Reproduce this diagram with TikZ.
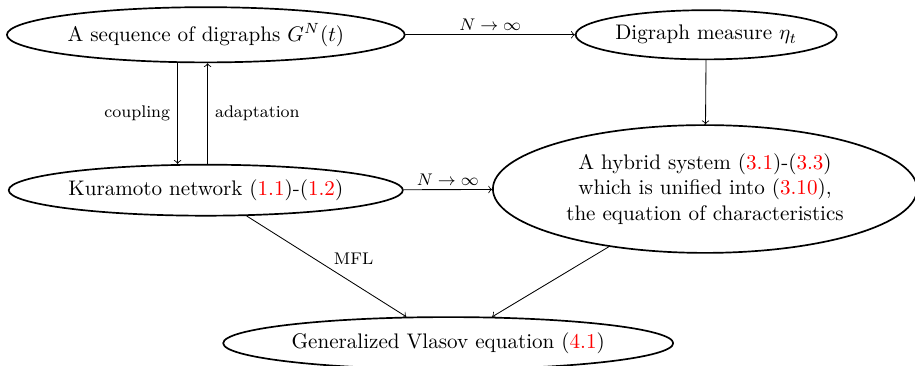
\documentclass[tikz,border=0pt]{standalone}
\usetikzlibrary{shapes.geometric}
\newcommand{\eqref}[1]{\textcolor{red}{#1}}
\begin{document}
\begin{tikzpicture}[line cap=round,line join=round,
  eqnode/.style={ellipse,draw,thick,inner sep=0pt,align=center},
  lab/.style={font=\footnotesize}]
  \useasboundingbox (0,0) rectangle (15.25,6.1);
  \node[eqnode,minimum width=6.63cm,minimum height=0.92cm] (G) at (3.43,5.52) {A sequence of digraphs $G^N(t)$};
  \node[eqnode,minimum width=4.35cm,minimum height=0.82cm] (M) at (11.77,5.52) {Digraph measure $\eta_t$};
  \node[eqnode,minimum width=6.57cm,minimum height=0.85cm] (K) at (3.43,2.93) {Kuramoto network (\eqref{1.1})-(\eqref{1.2})};
  \node[eqnode,minimum width=7.07cm,minimum height=2.13cm] (H) at (11.75,2.95) {A hybrid system (\eqref{3.1})-(\eqref{3.3})\\ which is unified into (\eqref{3.10}),\\ the equation of characteristics};
  \node[eqnode,minimum width=7.5cm,minimum height=0.87cm] (V) at (7.47,0.38) {Generalized Vlasov equation (\eqref{4.1})};
  \draw[->] (G) -- (M) node[midway,above=-1.5pt,lab] {$N\to\infty$};
  \draw[->] (M) -- (H);
  \draw[->] ([xshift=-0.47cm]G.south) -- ([xshift=-0.47cm]K.north) node[midway,left,lab] {coupling};
  \draw[->] ([xshift=0.03cm]K.north) -- ([xshift=0.03cm]G.south) node[midway,right,lab] {adaptation};
  \draw[->] (K) -- (H) node[midway,above=-1.5pt,lab] {$N\to\infty$};
  \draw[->] (K) -- (V) node[midway,above right,yshift=-2.5pt,lab] {MFL};
  \draw[->] (H) -- (V);
\end{tikzpicture}
\end{document}
